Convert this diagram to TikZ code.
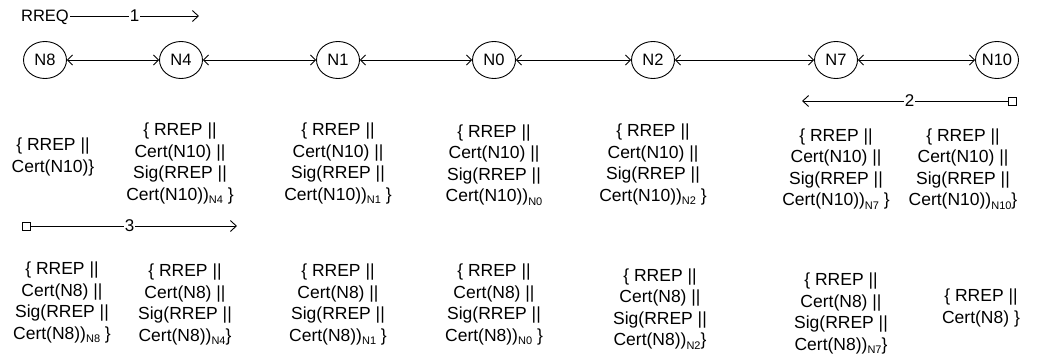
\documentclass[tikz,border=0pt]{standalone}
\usepackage{fontspec}
\setmainfont{Liberation Sans}
\usetikzlibrary{arrows.meta,shapes.geometric}
\newcommand{\sbs}[1]{\raisebox{-0.35ex}{\fontsize{11}{11}\selectfont #1}}
\begin{document}
\begin{tikzpicture}[x=1pt,y=-1pt,
  nd/.style={draw,ellipse,minimum width=43pt,minimum height=37pt,inner sep=0pt,line width=0.9pt,font=\fontsize{16.5}{16.5}\selectfont},
  link/.style={line width=0.9pt,{Straight Barb[length=5pt,width=10pt]}-{Straight Barb[length=5pt,width=10pt]}},
  flow/.style={line width=0.9pt},
  msg/.style={align=center,inner sep=0pt,font=\fontsize{17.5}{21.5}\selectfont},
  num/.style={fill=white,inner sep=1pt,font=\fontsize{17}{17}\selectfont}]
\useasboundingbox (0,0) rectangle (1037,362);
% nodes
\node[nd] (n8) at (45,60) {N8};
\node[nd] (n4) at (181,60) {N4};
\node[nd] (n1) at (338,60) {N1};
\node[nd] (n0) at (494,60) {N0};
\node[nd] (n2) at (653,60) {N2};
\node[nd] (n7) at (836,60) {N7};
\node[nd] (n10) at (997,60) {N10};
\draw[link] (n8) -- (n4);
\draw[link] (n4) -- (n1);
\draw[link] (n1) -- (n0);
\draw[link] (n0) -- (n2);
\draw[link] (n2) -- (n7);
\draw[link] (n7) -- (n10);
% flow 1
\node[inner sep=0pt,font=\fontsize{16.5}{16.5}\selectfont] (rreq) at (45,17) {RREQ};
\coordinate (e1) at (199,16);
\draw[flow,-{Straight Barb[length=6pt,width=11pt]}] (rreq.east |- e1) ++(1,0) -- node[num] {1} (e1);
% flow 2
\coordinate (s2) at (1017,101);
\coordinate (e2) at (802,101);
\draw[flow,{Square[open,length=9pt,width=9pt]}-{Straight Barb[length=6pt,width=11pt]}] (s2) -- node[num] {2} (e2);
% flow 3
\coordinate (s3) at (22,226);
\coordinate (e3) at (237,226);
\draw[flow,{Square[open,length=9pt,width=9pt]}-{Straight Barb[length=6pt,width=11pt]}] (s3) -- node[num] {3} (e3);
% row 1 messages
\node[msg] (a0) at (53,157) {\{ RREP ||\\Cert(N10)\}};
\node[msg] (a4) at (180,163.5) {\{ RREP ||\\Cert(N10) ||\\Sig(RREP ||\\Cert(N10))\sbs{N4} \}};
\node[msg] (a1) at (338,163.5) {\{ RREP ||\\Cert(N10) ||\\Sig(RREP ||\\Cert(N10))\sbs{N1} \}};
\node[msg] (a00) at (494,165) {\{ RREP ||\\Cert(N10) ||\\Sig(RREP ||\\Cert(N10))\sbs{N0}};
\node[msg] (a2) at (653,164.5) {\{ RREP ||\\Cert(N10) ||\\Sig(RREP ||\\Cert(N10))\sbs{N2} \}};
\node[msg] (a7) at (836,169) {\{ RREP ||\\Cert(N10) ||\\Sig(RREP ||\\Cert(N10))\sbs{N7} \}};
\node[msg] (a10) at (963,169) {\{ RREP ||\\Cert(N10) ||\\Sig(RREP ||\\Cert(N10))\sbs{N10}\}};
% row 2 messages
\node[msg] (b8) at (62,302.5) {\{ RREP ||\\Cert(N8) ||\\Sig(RREP ||\\Cert(N8))\sbs{N8} \}};
\node[msg] (b4) at (185,304.5) {\{ RREP ||\\Cert(N8) ||\\Sig(RREP ||\\Cert(N8))\sbs{N4}\}};
\node[msg] (b1) at (338,304.5) {\{ RREP ||\\Cert(N8) ||\\Sig(RREP ||\\Cert(N8))\sbs{N1} \}};
\node[msg] (b0) at (494,304.5) {\{ RREP ||\\Cert(N8) ||\\Sig(RREP ||\\Cert(N8))\sbs{N0} \}};
\node[msg] (b2) at (660,309) {\{ RREP ||\\Cert(N8) ||\\Sig(RREP ||\\Cert(N8))\sbs{N2}\}};
\node[msg] (b7) at (841,313.5) {\{ RREP ||\\Cert(N8) ||\\Sig(RREP ||\\Cert(N8))\sbs{N7}\}};
\node[msg] (b10) at (981,308) {\{ RREP ||\\Cert(N8) \}};
\end{tikzpicture}
\end{document}
